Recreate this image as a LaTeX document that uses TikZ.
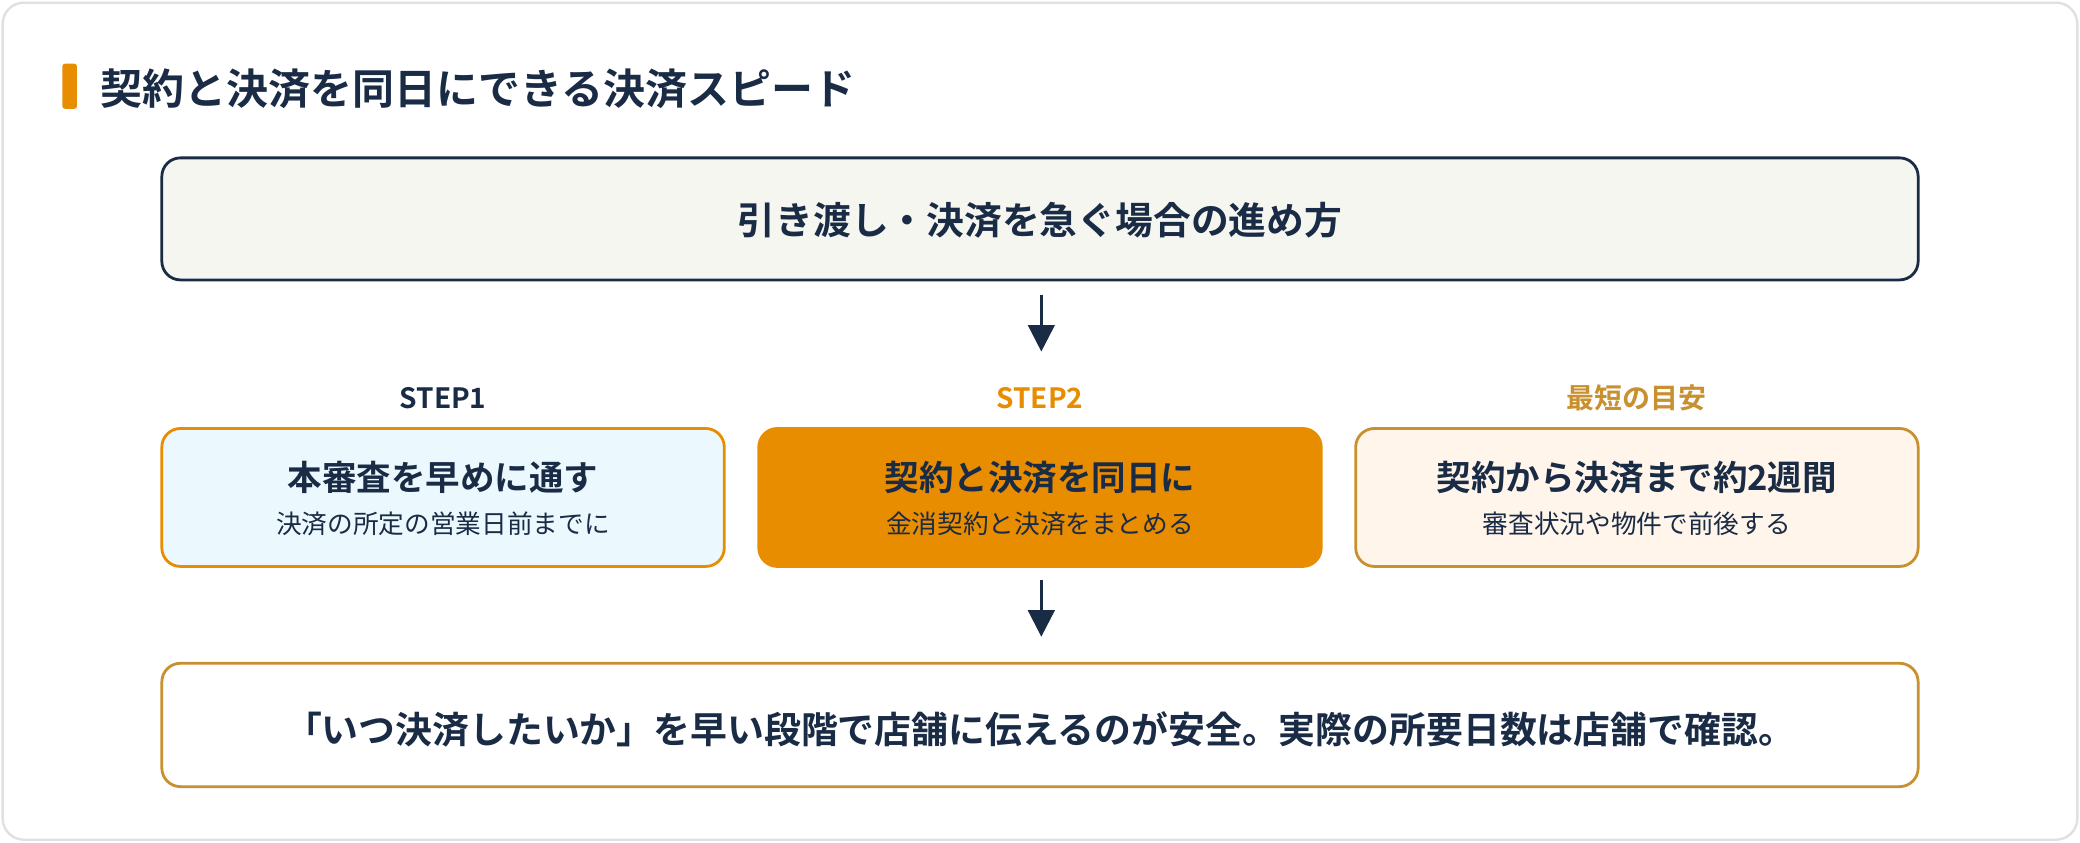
\documentclass[tikz,border=0pt]{standalone}
\usepackage{fontspec}
\setmainfont{Noto Sans CJK JP}[BoldFont={Noto Sans CJK JP Bold}]
\usetikzlibrary{arrows.meta}
\definecolor{navy}{HTML}{1A2B45}
\definecolor{orng}{HTML}{E88C00}
\definecolor{gold}{HTML}{C8902E}
\begin{document}
\begin{tikzpicture}[x=0.01cm,y=-0.01cm,
  box/.style={rounded corners=0.14cm,line width=0.6pt,align=center,text=navy,inner sep=0pt},
  big/.style={font=\bfseries\fontsize{7.4}{9}\selectfont},
  sub/.style={font=\fontsize{5.5}{6}\selectfont},
  lab/.style={font=\bfseries\fontsize{6}{7}\selectfont},
  arr/.style={-{Triangle[length=0.2cm,width=0.2cm]},line width=0.6pt,draw=navy}]
\useasboundingbox (0,0) rectangle (1568,635);
\draw[rounded corners=0.16cm,draw=black!12,fill=white,line width=0.5pt] (2,2) rectangle (1566,633);
\fill[orng,rounded corners=0.02cm] (47,48) rectangle (58,82);
\node[anchor=west,inner sep=0pt,text=navy,font=\bfseries\fontsize{9}{10}\selectfont] (title) at (75,67) {契約と決済を同日にできる決済スピード};
\draw[box,draw=navy,fill=black!4!white!98!yellow] (122,119) rectangle (1446,211);
\node[text=navy,font=\bfseries\fontsize{8.1}{10}\selectfont] (top) at (784,166) {引き渡し・決済を急ぐ場合の進め方};
\coordinate (a1) at (785,222); \coordinate (a2) at (785,265);
\draw[arr] (a1) -- (a2);
\node[lab,text=navy] (l1) at (334,300) {STEP1};
\node[lab,text=orng] (l2) at (784,300) {STEP2};
\node[lab,text=gold] (l3) at (1234,300) {最短の目安};
\draw[box,draw=orng,fill=cyan!8] (122,323) rectangle (546,427);
\draw[box,draw=orng,fill=orng] (572,323) rectangle (996,427);
\draw[box,draw=gold,fill=orange!8] (1022,323) rectangle (1446,427);
\node[big,text=navy] (b1) at (334,360) {本審査を早めに通す};
\node[sub,text=navy] (s1) at (334,395) {決済の所定の営業日前までに};
\node[big,text=navy] (b2) at (784,360) {契約と決済を同日に};
\node[sub,text=navy] (s2) at (784,395) {金消契約と決済をまとめる};
\node[big,text=navy] (b3) at (1234,360) {契約から決済まで約2週間};
\node[sub,text=navy] (s3) at (1234,395) {審査状況や物件で前後する};
\coordinate (c1) at (785,437); \coordinate (c2) at (785,480);
\draw[arr] (c1) -- (c2);
\draw[box,draw=gold,fill=white] (122,500) rectangle (1446,593);
\node[text=navy,font=\bfseries\fontsize{7.9}{10}\selectfont] (bot) at (784,550) {「いつ決済したいか」を早い段階で店舗に伝えるのが安全。実際の所要日数は店舗で確認。};
\end{tikzpicture}
\end{document}
